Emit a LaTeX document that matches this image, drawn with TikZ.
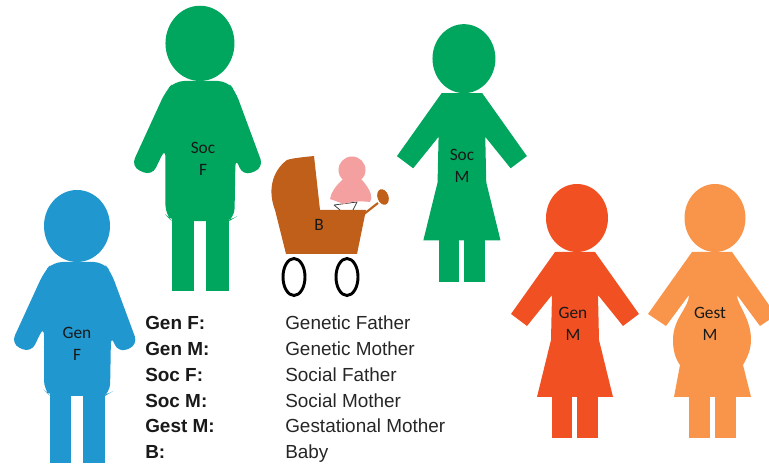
\documentclass[tikz,border=0pt]{standalone}
\usepackage{fontspec}
\setmainfont{Liberation Sans}
\newfontfamily\figfont{Carlito}
\usepackage{xcolor}
\usepackage{tikz}
\definecolor{genfblue}{HTML}{2097CE}
\definecolor{socgreen}{HTML}{00A65D}
\definecolor{genmred}{HTML}{F15022}
\definecolor{gestorange}{HTML}{F8954A}
\definecolor{prambrown}{HTML}{C05F1A}
\definecolor{babypink}{HTML}{F4A0A0}
\tikzset{
  figlabel/.style={font=\figfont\fontsize{13}{16}\selectfont, align=center, text=black!90},
  keylabel/.style={font=\fontsize{14.2}{17}\selectfont\bfseries, anchor=base west, inner sep=0pt, text=black!90},
  vallabel/.style={font=\fontsize{14.2}{17}\selectfont, anchor=base west, inner sep=0pt, text=black!85},
  pics/manfig/.style={code={
    \fill[#1] (77,226) ellipse [x radius=33, y radius=36];
    \fill[#1, rounded corners=7] (77,262) -- (103,262) -- (111,272) -- (138,345) -- (118,353) -- (111,335)
      -- (110,393) -- (105,396) -- (83,396) -- (71,396) -- (50,396) -- (44,390) -- (44,326) -- (31,353)
      -- (11,344) -- (44,272) -- (53,262) -- cycle;
    \fill[#1] (50,385) rectangle (71,463);
    \fill[#1] (83,385) rectangle (105,463);
  }},
  pics/womanfig/.style={code={
    \fill[#1] (577,218) ellipse [x radius=31, y radius=34];
    \fill[#1] (555,252) -- (595,252) -- (639,314) -- (623,326) -- (598,295) -- (599,340) -- (613,397)
      -- (537,397) -- (551,340) -- (552,295) -- (527,326) -- (511,314) -- cycle;
    \fill[#1] (552,390) rectangle (572,438);
    \fill[#1] (577,390) rectangle (598,438);
  }}
}
\begin{document}
\begin{tikzpicture}[x=0.75pt, y=-0.75pt]
\useasboundingbox (0,0) rectangle (769,466);
\clip (0,0) rectangle (769,466);

% fathers
\pic {manfig=genfblue};
\pic[shift={(119.5,-192.8)}, scale=1.045] {manfig=socgreen};

% mothers
\pic {womanfig=genmred};
\pic[shift={(-121.7,-162.6)}, scale=1.015] {womanfig=socgreen};

% gestational mother
\fill[gestorange] (715,218) ellipse [x radius=30.5, y radius=34];
\fill[gestorange] (692,252) -- (732,252) -- (769,305) -- (769,320) -- (760,326) -- (737,295)
  .. controls (737,305) and (751,318) .. (751,340)
  .. controls (751,350) and (747,358) .. (743,365)
  -- (751,397) -- (674,397) -- (680,365)
  .. controls (675,358) and (673,350) .. (673,340)
  .. controls (673,318) and (689,308) .. (689,295)
  -- (666,326) -- (648,314) -- cycle;
\fill[gestorange] (689,390) rectangle (710,438);
\fill[gestorange] (715,390) rectangle (736,438);

% pram
\draw[line width=2.2pt] (294,277) ellipse [x radius=11, y radius=18.5];
\draw[line width=2.2pt] (347,277) ellipse [x radius=11, y radius=18.5];
\fill[prambrown] (314,156) -- (320,210) -- (366,210) -- (357,254) -- (286,254) -- (275,210)
  .. controls (268,192) and (271,172) .. (287,160)
  .. controls (293,158) and (305,157) .. (314,156) -- cycle;
\draw[prambrown, line width=1.6pt] (364,214) -- (378,203);
\fill[prambrown, rotate around={20:(383,197)}] (383,197) ellipse [x radius=5.5, y radius=8];

% baby
\draw[black!75, line width=0.6pt] (334,205) -- (357,202) -- (353,210) (334,205) -- (340,210);
\fill[babypink] (352,170) circle [radius=13.5];
\fill[babypink] (342,180) .. controls (336,186) and (331,192) .. (330,199)
  -- (344,204) .. controls (352,201) and (362,201) .. (370,202)
  .. controls (373,198) and (371,190) .. (362,180) -- cycle;

% labels on the figures
\node[figlabel] (genF) at (77,344) {Gen\\F};
\node[figlabel] (socF) at (203,159) {Soc\\F};
\node[figlabel] (socM) at (462,166) {Soc\\M};
\node[figlabel] (genM) at (573,324) {Gen\\M};
\node[figlabel] (gestM) at (710,324) {Gest\\M};
\node[figlabel] (babyB) at (319,225) {B};

% key
\foreach \y/\k/\v/\n in {330/Gen F:/Genetic Father/a, 356/Gen M:/Genetic Mother/b, 382/Soc F:/Social Father/c,
    408/Soc M:/Social Mother/d, 433/Gest M:/Gestational Mother/e, 459/B:/Baby/f} {
  \node[keylabel] (key\n) at (145,\y) {\k};
  \node[vallabel] (val\n) at (285,\y) {\v};
}
\end{tikzpicture}
\end{document}
